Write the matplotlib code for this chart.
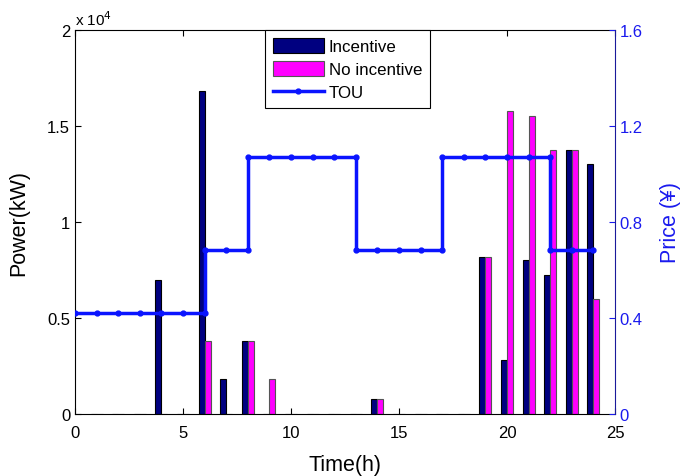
import numpy as np
import matplotlib
matplotlib.use("Agg")
import matplotlib.pyplot as plt
from matplotlib.ticker import FuncFormatter

plt.rcParams["font.family"] = ["Liberation Sans", "DejaVu Sans"]

# hourly power (kW)
hours = np.arange(1, 25)
incentive = [0, 0, 0, 7000, 0, 16800, 1800, 3800, 0, 0, 0, 0,
             0, 800, 0, 0, 0, 0, 8200, 2800, 8000, 7250, 13750, 13000]
no_incentive = [0, 0, 0, 0, 0, 3800, 0, 3800, 1800, 0, 0, 0,
                0, 800, 0, 0, 0, 0, 8200, 15800, 15500, 13750, 13750, 6000]

# time-of-use price for each hour interval [h, h+1)
tou_price = [0.42] * 6 + [0.685] * 2 + [1.07] * 5 + [0.685] * 4 + [1.07] * 5 + [0.685] * 2

# stair polyline with a vertex at every hour and at both ends of each jump
tx, ty = [0], [tou_price[0]]
for h in range(1, 25):
    tx.append(h)
    ty.append(tou_price[h - 1])
    if h < 24 and tou_price[h] != tou_price[h - 1]:
        tx.append(h)
        ty.append(tou_price[h])

fig = plt.figure(figsize=(6.83, 4.77), dpi=100)
ax = fig.add_axes([0.1098, 0.130, 0.7906, 0.805])
ax2 = ax.twinx()

w = 0.28
b1 = ax.bar(hours - w / 2, incentive, w, color="#000080", edgecolor="black",
            linewidth=0.8, label="Incentive", zorder=2)
b2 = ax.bar(hours + w / 2, no_incentive, w, color="#ff00ff", edgecolor="#555555",
            linewidth=0.8, label="No incentive", zorder=2)

ln, = ax2.plot(tx, ty, color="#0a14ff", lw=2.5, marker="o", ms=3.5,
               label="TOU")

ax.set_xlim(0, 25)
ax.set_ylim(0, 20000)
ax.set_xticks(range(0, 26, 5))
ax.set_yticks([0, 5000, 10000, 15000, 20000])
ax.yaxis.set_major_formatter(FuncFormatter(lambda v, p: f"{v / 1e4:g}"))
ax.tick_params(direction="in", labelsize=12, length=4, top=True, width=0.8)
ax.tick_params(axis="x", pad=8)
ax.text(0.0, 1.005, "x 10$^4$", transform=ax.transAxes, fontsize=11,
        ha="left", va="bottom")
ax.set_xlabel("Time(h)", fontsize=15.5, labelpad=10)
ax.set_ylabel("Power(kW)", fontsize=15.5, labelpad=13)

ax2.set_ylim(0, 1.6)
ax2.set_yticks([0, 0.4, 0.8, 1.2, 1.6])
ax2.yaxis.set_major_formatter(FuncFormatter(lambda v, p: f"{v:g}"))
ax2.tick_params(direction="in", labelsize=12, length=4, colors="#1a1aee",
                width=0.8)
ax2.spines["right"].set_color("#1a1a9a")
ax2.set_ylabel("Price (\u00a5)", fontsize=15.5, color="#1a1aee", labelpad=12)

for sp in ["left", "top", "bottom"]:
    ax.spines[sp].set_linewidth(0.8)
    ax2.spines[sp].set_visible(False)
ax.spines["right"].set_visible(False)

leg = ax.legend([b1, b2, ln], ["Incentive", "No incentive", "TOU"],
                loc="upper left", bbox_to_anchor=(0.352, 1.0), fontsize=12.2,
                fancybox=False, edgecolor="black", framealpha=1,
                handlelength=3.0, handleheight=1.0, borderpad=0.45,
                labelspacing=0.4, handletextpad=0.3, borderaxespad=0)
leg.get_frame().set_linewidth(0.8)
leg.set_zorder(5)

fig.savefig("out.png", dpi=100)
